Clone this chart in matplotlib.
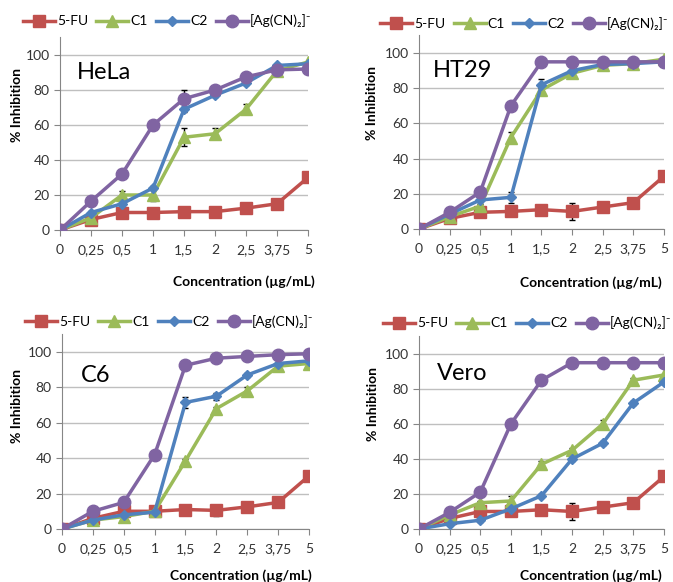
import matplotlib
matplotlib.use("Agg")
import matplotlib.pyplot as plt

plt.rcParams['font.family'] = ['Lato', 'DejaVu Sans']

# categories on x axis
conc = ["0", "0,25", "0,5", "1", "1,5", "2", "2,5", "3,75", "5"]
series_names = ["5-FU", "C1", "C2", "[Ag(CN)₂]⁻"]

# % inhibition
hela_5fu = [0, 6, 10, 10, 10.5, 10.5, 12.5, 15, 30]
hela_c1 = [0, 7, 20, 20, 53, 55, 69, 91, 96]
hela_c2 = [0, 10, 15, 24, 69, 77, 84, 94, 95]
hela_ag = [0, 16.5, 32, 60, 75, 80, 87.5, 91.5, 92]

ht29_5fu = [0, 6, 9.5, 10, 11, 10, 12.5, 15, 30]
ht29_c1 = [0, 7, 13, 52, 79, 88.5, 93, 94, 96.5]
ht29_c2 = [0, 8.5, 16.5, 18, 82, 90, 93.5, 94, 95]
ht29_ag = [0, 9.5, 21, 70, 95, 95, 95, 95, 95]

c6_5fu = [0, 6, 10, 10, 11, 10.5, 12.5, 15, 30]
c6_c1 = [0, 5, 7, 10, 38.5, 68, 78, 92, 93.5]
c6_c2 = [0, 5, 8, 9.5, 71.5, 75, 87, 93.5, 95]
c6_ag = [0, 10, 15, 42, 92.5, 96.5, 97.5, 98.5, 99]

vero_5fu = [0, 6, 10, 10, 11, 10, 12.5, 15, 30]
vero_c1 = [0, 8, 15, 16, 37, 45, 60, 85, 88]
vero_c2 = [0, 3, 5, 11.5, 19, 40, 49, 72, 84]
vero_ag = [0, 9.5, 21, 60, 85, 95, 95, 95, 95]

# error bars (std)
hela_err = [[0, 1, 1, 1, 1, 1, 1, 1, 0], [0, 1, 2.5, 3.5, 5, 3, 3, 1, 0],
            [0, 1, 1, 1, 1.5, 1, 1, 1, 0], [0, 1, 1, 1, 5, 1, 1, 1, 0]]
ht29_err = [[0, 1, 1, 1, 2, 5, 3, 1, 0], [0, 1, 1, 3, 1, 1, 1, 1, 0],
            [0, 1, 1, 3, 3, 1, 1, 1, 0], [0, 1, 1, 1, 1, 1, 1, 1, 0]]
c6_err = [[0, 1, 1, 1, 1, 3, 3, 1, 0], [0, 1, 1, 1, 1, 1, 2, 1, 0],
          [0, 1, 1, 1, 3, 2, 1, 1, 0], [0, 1, 1, 1, 1, 1.5, 1.5, 1.5, 1]]
vero_err = [[0, 1, 1, 1, 2, 5, 3, 1, 0], [0, 1, 1, 3, 2, 1, 2, 1, 0],
            [0, 1, 1, 1, 1, 1, 1, 1, 0], [0, 1, 1, 1, 1, 1, 1, 1, 0]]

colors = ["#C0504D", "#9BBB59", "#4F81BD", "#8064A2"]
markers = ["s", "^", "D", "o"]
msizes = [8, 8, 5.5, 9]

panels = [
    ("HeLa", [hela_5fu, hela_c1, hela_c2, hela_ag], hela_err,
     [0.0892, 0.6048, 0.3685, 0.3308], (0.069, 0.82), (0.034, 0.964), (1.028, -0.234), (-0.149, 0.65)),
    ("HT29", [ht29_5fu, ht29_c1, ht29_c2, ht29_ag], ht29_err,
     [0.6226, 0.6065, 0.364, 0.3326], (0.057, 0.82), (0.565, 0.960), (0.99, -0.243), (-0.167, 0.65)),
    ("C6", [c6_5fu, c6_c1, c6_c2, c6_ag], c6_err,
     [0.0921, 0.0911, 0.367, 0.3345], (0.077, 0.79), (0.037, 0.447), (1.01, -0.205), (-0.158, 0.63)),
    ("Vero", [vero_5fu, vero_c1, vero_c2, vero_ag], vero_err,
     [0.6226, 0.0911, 0.364, 0.3308], (0.073, 0.805), (0.569, 0.445), (0.99, -0.207), (-0.163, 0.65)),
]

fig = plt.figure(figsize=(6.73, 5.82), dpi=100)
x = list(range(len(conc)))

for name, data, errs, rect, tpos, lpos, xlpos, ylpos in panels:
    ax = fig.add_axes(rect)
    handles = []
    for i in range(4):
        ax.errorbar(x, data[i], yerr=errs[i], fmt="none", ecolor="black",
                    elinewidth=1, capsize=2.5, capthick=1, zorder=2)
        h, = ax.plot(x, data[i], color=colors[i], marker=markers[i], markersize=msizes[i],
                     linewidth=2.5, label=series_names[i], zorder=3 + i)
        handles.append(h)
    ax.set_xlim(0, 8)
    ax.set_ylim(0, 110)
    ax.set_yticks([0, 20, 40, 60, 80, 100])
    ax.set_xticks(x)
    ax.set_xticklabels(conc)
    ax.grid(axis="y", color="#BFBFBF", linewidth=1)
    ax.set_axisbelow(True)
    for s in ["top", "right"]:
        ax.spines[s].set_visible(False)
    for s in ["left", "bottom"]:
        ax.spines[s].set_color("#868686")
    ax.tick_params(axis="both", labelsize=10, color="#868686", length=4, colors="#333333")
    ax.tick_params(axis="x", pad=6)
    ax.set_xlabel("Concentration (µg/mL)", fontsize=10, fontweight="bold", ha="right")
    ax.xaxis.set_label_coords(*xlpos)
    ax.set_ylabel("% Inhibition", fontsize=10, fontweight="bold")
    ax.yaxis.set_label_coords(*ylpos)
    ax.text(tpos[0], tpos[1], name, transform=ax.transAxes, fontsize=17, va="center", ha="left")
    fig.legend(handles=handles, loc="center left", bbox_to_anchor=lpos, ncol=4, frameon=False,
               fontsize=10, handlelength=2.3, handletextpad=0.15, columnspacing=0.6,
               borderpad=0, borderaxespad=0)

fig.savefig("out.png", dpi=100)
